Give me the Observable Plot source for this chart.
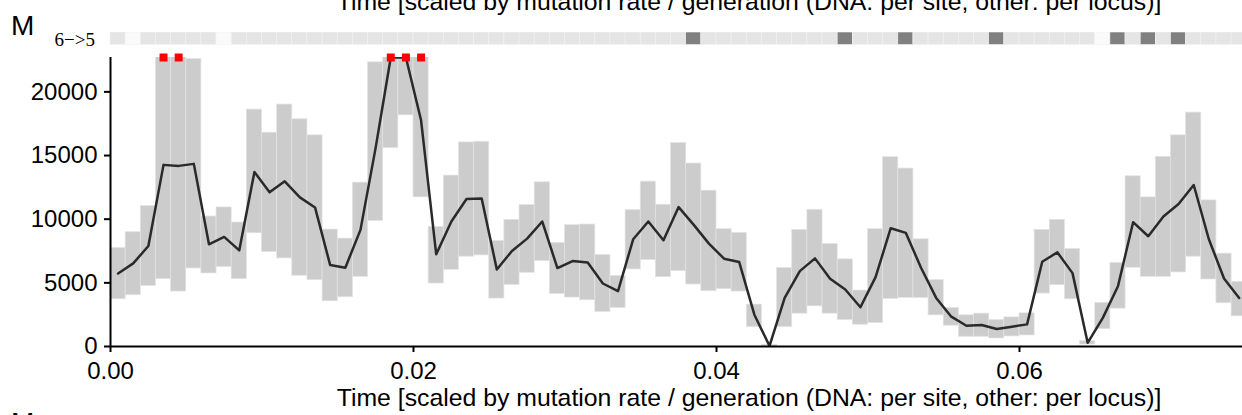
<!DOCTYPE html>
<html><head><meta charset="utf-8">
<script src="https://cdn.jsdelivr.net/npm/d3@7"></script>
<script src="https://cdn.jsdelivr.net/npm/@observablehq/plot@0.6"></script>
<style>
html,body{margin:0;padding:0;background:#fff;overflow:hidden;}
#wrap{position:relative;width:1242px;height:415px;overflow:hidden;}
#wrap > svg, #wrap > figure{position:absolute;left:0;margin:0;}
</style></head><body><div id="wrap"></div>
<script>
// ---- data ----
const binStart = [0.000,0.001,0.002,0.003,0.004,0.005,0.006,0.007,0.008,0.009,
  0.010,0.011,0.012,0.013,0.014,0.015,0.016,0.017,0.018,0.019,
  0.020,0.021,0.022,0.023,0.024,0.025,0.026,0.027,0.028,0.029,
  0.030,0.031,0.032,0.033,0.034,0.035,0.036,0.037,0.038,0.039,
  0.040,0.041,0.042,0.043,0.044,0.045,0.046,0.047,0.048,0.049,
  0.050,0.051,0.052,0.053,0.054,0.055,0.056,0.057,0.058,0.059,
  0.060,0.061,0.062,0.063,0.064,0.065,0.066,0.067,0.068,0.069,
  0.070,0.071,0.072,0.073,0.074];
const binWidth = 0.001;
const lower = [3711,4027,4764,5290,4316,6132,5738,6238,5290,8896,
  7422,6922,5554,5211,3553,3869,5475,9870,15581,18161,
  11712,4948,6027,7054,7159,3764,4843,5790,6712,4132,
  3843,3632,2711,3027,6054,6791,5448,5922,4869,4343,
  4501,4316,1527,0,1527,2580,3158,2580,2079,1711,
  1842,3737,3816,3816,2448,1632,763,763,632,790,
  869,4158,4817,3711,150,1369,2974,6185,5475,5475,
  5817,7054,5264,3395,2369];
const upper = [7738,8975,11028,25000,25000,22580,10212,10923,9738,18608,
  16792,19003,17845,16582,9186,8475,12870,22320,25000,25000,
  25000,9396,13423,16029,16082,8291,9949,11107,12897,8133,
  9528,9581,7185,5527,10712,12949,11133,15976,14371,12239,
  9212,8923,3290,140,6159,9159,10739,8054,6843,4395,
  9212,14871,13976,8422,5211,3027,2448,2579,2079,2290,
  2606,9159,9949,7659,420,3422,6554,13371,11712,14897,
  16582,18372,11476,7291,5080];
const median = [5738,6527,7896,14266,14187,14345,8028,8607,7554,13713,
  12107,12976,11712,10923,6396,6185,9159,15600,22700,22700,
  17766,7238,9817,11581,11633,6054,7501,8475,9817,6159,
  6712,6606,4948,4343,8422,9817,8344,10949,9554,8080,
  6896,6633,2500,40,3816,5922,6922,5317,4474,3079,
  5448,9291,8923,6185,3816,2342,1632,1684,1369,1553,
  1737,6659,7396,5764,290,2250,4738,9765,8659,10212,
  11186,12686,8422,5343,3816];
// strip state per bin: 0 = present (light), 1 = absent (blank), 2 = flagged (dark)
const stripState = [0,1,0,0,0,0,0,1,0,0, 0,0,0,0,0,0,0,0,0,0,
  0,0,0,0,0,0,0,0,0,0, 0,0,0,0,0,0,0,0,2,0,
  0,0,0,0,0,0,0,0,2,0, 0,0,2,0,0,0,0,0,2,0,
  0,0,0,0,0,1,2,0,2,0, 2,0,0,0,0];
const stripColors = ["#e5e5e5", "#fafafa", "#808080"];
const xTicks = [0, 0.02, 0.04, 0.06];
const yTicks = [0, 5000, 10000, 15000, 20000];
const xMax = 0.07472;
const yMax = 22700;
const axisTitle = "Time [scaled by mutation rate / generation (DNA: per site, other: per locus)]";
const panelLabel = "M";
const stripLabel = "6\u2212>5";

const rows = binStart.map((t, i) => ({
  x1: t, x2: t + binWidth, xm: t + binWidth / 2,
  lo: lower[i], hi: upper[i], med: median[i], state: stripState[i]
}));

const W = 1242, H = 415;
const font = "'Liberation Sans', Arial, Helvetica, sans-serif";
const wrap = document.getElementById("wrap");

const main = Plot.plot({
  width: W, height: H,
  marginTop: 57, marginBottom: 69, marginLeft: 110, marginRight: 0,
  style: {fontFamily: font, fontSize: "24px", background: "transparent", color: "#000"},
  x: {domain: [0, xMax], label: null},
  y: {domain: [0, yMax], label: null},
  marks: [
    Plot.rect(rows, {x1: "x1", x2: "x2", y1: "lo", y2: "hi", fill: "#cccccc",
      stroke: "#e3e3e3", strokeWidth: 0.7, clip: true}),
    Plot.line(rows, {x: "xm", y: "med", stroke: "#2a2a2a", strokeWidth: 2.5, clip: true}),
    Plot.ruleY([0], {stroke: "#000", strokeWidth: 2}),
    Plot.ruleX([0], {y1: 0, y2: yMax, stroke: "#000", strokeWidth: 2}),
    Plot.axisY(yTicks, {tickSize: 6, tickPadding: 7, strokeWidth: 2, label: null,
      tickFormat: d3.format("d"), fontSize: 24}),
    Plot.axisX(xTicks, {tickSize: 6, tickPadding: 9, strokeWidth: 2, label: null,
      tickFormat: d3.format(".2f"), fontSize: 24}),
    Plot.dot(rows.filter(d => d.hi > yMax), {x: "xm", y: () => yMax, symbol: "square",
      fill: "#ff0000", stroke: null, r: 4.5})
  ]
});
main.style.top = "0px";
wrap.appendChild(main);

const strip = Plot.plot({
  width: W, height: 12.5,
  marginTop: 0, marginBottom: 0, marginLeft: 110, marginRight: 0,
  style: {background: "transparent"},
  x: {domain: [0, xMax], axis: null},
  color: {type: "identity"},
  marks: [
    Plot.rect(rows, {x1: "x1", x2: "x2", fill: d => stripColors[d.state],
      stroke: "#f2f2f2", strokeWidth: 0.6})
  ]
});
strip.style.top = "32.3px";
wrap.appendChild(strip);

// text overlay
const svg = d3.create("svg").attr("width", W).attr("height", H)
  .style("position", "absolute").style("top", "0px").style("left", "0px")
  .style("pointer-events", "none");
svg.append("text").attr("x", 749).attr("y", 10).attr("text-anchor", "middle")
  .attr("font-family", font).attr("font-size", 24.8).text(axisTitle);
svg.append("text").attr("x", 749).attr("y", 406).attr("text-anchor", "middle")
  .attr("font-family", font).attr("font-size", 24.8).text(axisTitle);
svg.append("text").attr("x", 11).attr("y", 35)
  .attr("font-family", font).attr("font-size", 28).text(panelLabel);
svg.append("text").attr("x", 11).attr("y", 432)
  .attr("font-family", font).attr("font-size", 28).text(panelLabel);
svg.append("text").attr("x", 95).attr("y", 45.5).attr("text-anchor", "end")
  .attr("font-family", "'Liberation Serif', 'Times New Roman', serif").attr("font-size", 19)
  .text(stripLabel);
wrap.appendChild(svg.node());
</script>
</body></html>
